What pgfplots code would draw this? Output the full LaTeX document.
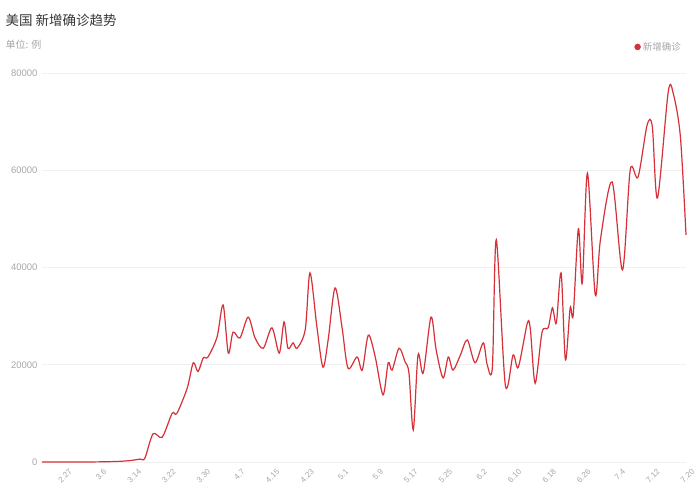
\documentclass[border=0pt]{standalone}
\usepackage{pgfplots}
\pgfplotsset{compat=1.18}
\usepackage{fontspec}
\setmainfont{Noto Sans CJK SC}
\newfontfamily\tickfont{Liberation Sans}
\definecolor{linered}{RGB}{214,48,56}
\definecolor{ticktext}{RGB}{168,168,168}
\definecolor{gridc}{RGB}{240,240,240}
\definecolor{titlec}{RGB}{55,55,55}
\begin{document}
\begin{tikzpicture}
\path[use as bounding box, fill=white] (0pt,0pt) rectangle (700pt,500pt);
\node[anchor=west, font=\fontsize{13.5}{15}\selectfont, text=titlec] at (2pt,480pt) {美国 新增确诊趋势};
\node[anchor=west, font=\fontsize{10}{12}\selectfont, text=ticktext] at (2pt,455pt) {单位: 例};
\begin{axis}[
  at={(42pt,38pt)}, anchor=south west, scale only axis,
  width=644pt, height=389pt,
  xmin=-5, xmax=144, ymin=0, ymax=80000,
  enlargelimits=false, clip=false,
  axis line style={draw=none},
  major tick style={draw=none},
  ymajorgrids, grid style={gridc, line width=0.6pt},
  ytick={0,20000,40000,60000,80000},
  scaled y ticks=false,
  yticklabel style={/pgf/number format/1000 sep={}, /pgf/number format/assume math mode=true, font=\tickfont\fontsize{9.5}{11}\selectfont, text=ticktext, xshift=-1pt},
  xtick={0,8,...,144},
  xticklabels={2.27,3.6,3.14,3.22,3.30,4.7,4.15,4.23,5.1,5.9,5.17,5.25,6.2,6.10,6.18,6.26,7.4,7.12,7.20},
  xticklabel style={rotate=45, anchor=north east, font=\tickfont\fontsize{8}{9}\selectfont, text=ticktext, inner sep=1pt, yshift=-7pt},
  legend style={at={(1.0,1.067)}, anchor=east, draw=none, fill=none, font=\fontsize{9.5}{11}\selectfont, text=ticktext},
  legend image code/.code={\fill[linered] (0.3em,0) circle (2.6pt);},
]
\addplot[linered, line width=1.2pt, smooth, tension=0.5] coordinates {
(-5,0) (5,0) (12,100) (15.4,300) (17.7,600) (18.8,800) (20.7,5800) (22.8,5100)
(25.1,10000) (26.2,10000) (28.6,15200) (30.0,20400) (31.1,18600) (32.3,21400)
(33.4,21600) (35.5,25700) (36.9,32300) (38.1,22400) (39.2,26700) (40.8,25500)
(42.7,29800) (44.3,25500) (46.2,23400) (48.2,27600) (49.9,22400) (51.0,28800)
(51.9,23400) (53.1,24500) (54.0,23400) (55.9,27200) (57.0,38900) (58.6,27800)
(60.0,19500) (61.2,25100) (62.8,35800) (64.4,27800) (65.8,19300) (67.9,21600)
(69.1,18900) (70.5,26100) (72.1,21600) (73.9,13800) (75.1,20400) (76.0,18900)
(77.6,23400) (79.0,20600) (79.9,18300) (80.9,6600) (82.0,22000) (83.2,18300)
(85.0,29800) (86.2,23000) (87.8,17300) (89.0,21600) (90.1,18900) (91.8,22000)
(93.4,25100) (95.2,20400) (97.1,24500) (98.0,20000) (99.2,19500) (100.1,45700)
(102.2,15800) (104.0,22000) (105.2,19500) (107.3,28600) (108.0,27200) (109.1,16200)
(110.7,26700) (112.1,27600) (113.1,31700) (114.0,28600) (115.1,38900) (116.1,21000)
(117.2,31700) (117.9,30200) (119.1,48000) (120.0,36800) (121.2,59400) (123.0,34400)
(124.2,45700) (126.9,57600) (129.3,39500) (131.1,60100) (132.9,58600) (135.0,69300)
(136.2,69000) (137.4,54300) (139.9,76200) (141.1,75600) (142.7,66900) (144.0,46700)
};
\addlegendentry{新增确诊}
\end{axis}
\end{tikzpicture}
\end{document}
